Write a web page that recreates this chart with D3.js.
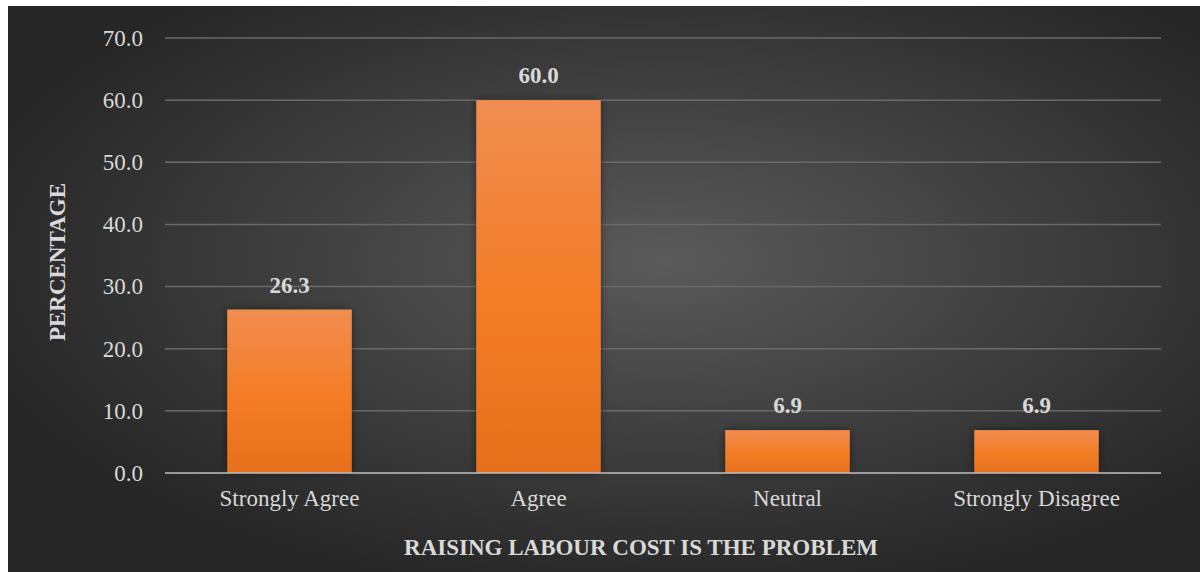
<!doctype html>
<html>
<head>
  <style>
    body { margin: 0; background: #fff; }
    svg { display: block; }
    svg text { font-family: "Liberation Serif", "Times New Roman", "DejaVu Serif", serif; }
  </style>
  <script src="https://cdn.jsdelivr.net/npm/d3@7"></script>
</head>
<body>
  <script>
  var categories = ["Strongly Agree", "Agree", "Neutral", "Strongly Disagree"];
  var values = [26.3, 60.0, 6.9, 6.9];
  var yTicks = [0, 10, 20, 30, 40, 50, 60, 70];

  var W = 1200, H = 572;
  var plot = {left: 165, right: 1161, top: 38, bottom: 473};

  var svg = d3.select("body").append("svg")
      .attr("width", W)
      .attr("height", H);

  var defs = svg.append("defs");

  // dark radial background
  var bg = defs.append("radialGradient").attr("id", "bg")
      .attr("cx", "55%").attr("cy", "45%").attr("r", "60%");
  bg.append("stop").attr("offset", "0%").attr("stop-color", "#5a5a5a");
  bg.append("stop").attr("offset", "100%").attr("stop-color", "#262626");

  // orange bar fill
  var bar = defs.append("linearGradient").attr("id", "bar")
      .attr("x1", 0).attr("y1", 0).attr("x2", 0).attr("y2", 1);
  bar.append("stop").attr("offset", "0%").attr("stop-color", "#f08d50");
  bar.append("stop").attr("offset", "55%").attr("stop-color", "#f47c25");
  bar.append("stop").attr("offset", "100%").attr("stop-color", "#e6701c");

  var shadow = defs.append("filter").attr("id", "shadow")
      .attr("x", "-20%").attr("y", "-20%").attr("width", "140%").attr("height", "140%");
  shadow.append("feDropShadow").attr("dx", 0).attr("dy", 0)
      .attr("stdDeviation", 4).attr("flood-color", "#000").attr("flood-opacity", 0.45);

  svg.append("rect")
      .attr("x", 8).attr("y", 6)
      .attr("width", W - 8).attr("height", H - 6)
      .attr("fill", "url(#bg)");

  var x = d3.scaleBand()
      .domain(categories)
      .range([plot.left, plot.right])
      .paddingInner(0.5)
      .paddingOuter(0.25);

  var y = d3.scaleLinear()
      .domain([0, 70])
      .range([plot.bottom, plot.top]);

  var font = '"Liberation Serif", "Times New Roman", "DejaVu Serif", serif';
  var fs = "23px";

  // gridlines
  svg.append("g")
      .selectAll("line")
      .data(yTicks.slice(1))
      .enter()
      .append("line")
      .attr("x1", plot.left).attr("x2", plot.right)
      .attr("y1", function(d) { return y(d); })
      .attr("y2", function(d) { return y(d); })
      .attr("stroke", "#6a6a6a")
      .attr("stroke-width", 1.5);

  // y axis labels
  var yAxis = d3.axisLeft(y)
      .tickValues(yTicks)
      .tickFormat(d3.format(".1f"))
      .tickSize(0)
      .tickPadding(22);

  var gy = svg.append("g")
      .attr("transform", "translate(" + plot.left + ",0)")
      .call(yAxis)
      .attr("font-family", null);
  gy.select(".domain").remove();
  gy.selectAll("text")
      .style("font-family", font)
      .style("font-size", fs)
      .attr("fill", "#d9d9d9");

  // bars
  svg.append("g")
      .selectAll("rect")
      .data(values)
      .enter()
      .append("rect")
      .attr("x", function(d, i) { return x(categories[i]); })
      .attr("width", x.bandwidth())
      .attr("y", function(d) { return y(d); })
      .attr("height", function(d) { return y(0) - y(d); })
      .attr("fill", "url(#bar)")
      .attr("filter", "url(#shadow)");

  // baseline
  svg.append("line")
      .attr("x1", plot.left).attr("x2", plot.right)
      .attr("y1", y(0)).attr("y2", y(0))
      .attr("stroke", "#bfbfbf")
      .attr("stroke-width", 1.5);

  // value labels
  svg.append("g")
      .selectAll("text")
      .data(values)
      .enter()
      .append("text")
      .text(function(d) { return d.toFixed(1); })
      .attr("x", function(d, i) { return x(categories[i]) + x.bandwidth() / 2; })
      .attr("y", function(d) { return y(d) - 17; })
      .attr("text-anchor", "middle")
      .style("font-family", font)
      .style("font-weight", "bold")
      .style("font-size", fs)
      .attr("fill", "#d9d9d9");

  // x axis labels
  var xAxis = d3.axisBottom(x).tickSize(0);
  var gx = svg.append("g")
      .attr("transform", "translate(0," + plot.bottom + ")")
      .call(xAxis)
      .attr("font-family", null);
  gx.select(".domain").remove();
  gx.selectAll("text")
      .attr("y", 33)
      .attr("dy", null)
      .style("font-family", font)
      .style("font-size", fs)
      .attr("fill", "#d9d9d9");

  // axis titles
  svg.append("text")
      .text("RAISING LABOUR COST IS THE PROBLEM")
      .attr("x", 641)
      .attr("y", 555)
      .attr("text-anchor", "middle")
      .style("font-family", font)
      .style("font-weight", "bold")
      .style("font-size", fs)
      .attr("fill", "#d9d9d9");

  svg.append("text")
      .text("PERCENTAGE")
      .attr("transform", "translate(65,262) rotate(-90)")
      .attr("text-anchor", "middle")
      .style("font-family", font)
      .style("font-weight", "bold")
      .style("font-size", fs)
      .attr("fill", "#d9d9d9");
  </script>
</body>
</html>
